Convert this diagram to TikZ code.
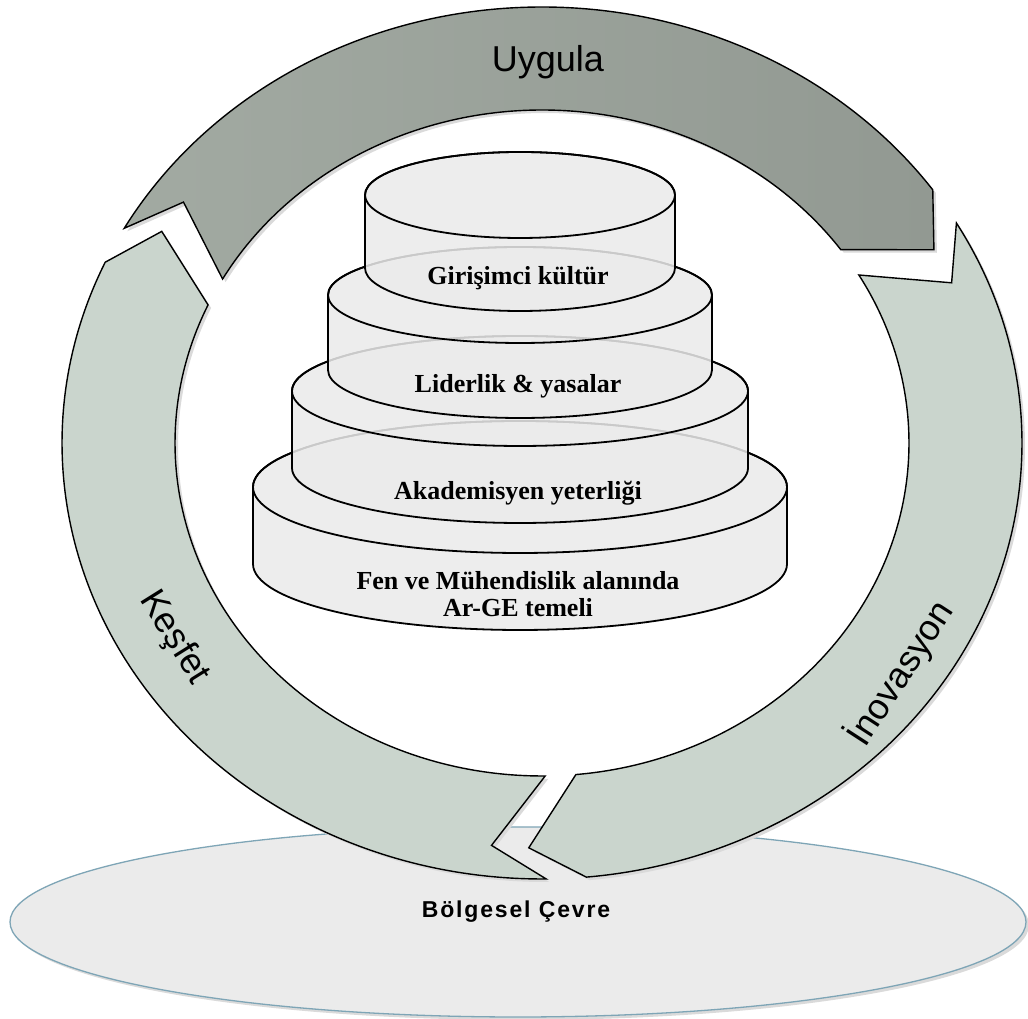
\documentclass[tikz,border=0pt]{standalone}
\usepackage{fontspec}
\setmainfont{Liberation Serif}
\newfontfamily\arialfam{Liberation Sans}
\newfontfamily\arialspaced[LetterSpace=8]{Liberation Sans}
\definecolor{ringlight}{RGB}{202,213,205}
\definecolor{ringdarkL}{RGB}{162,170,162}
\definecolor{ringdarkM}{RGB}{176,184,176}
\definecolor{ringdarkR}{RGB}{146,153,146}
\definecolor{cylfill}{RGB}{235,235,235}
\definecolor{baseedge}{RGB}{126,165,182}
\definecolor{shadowc}{RGB}{218,218,218}
% ring arrow: #1 = parametric angle of the notched tail, runs clockwise
\newcommand\ringarrowpath[1]{(#1:480pt and 436pt)
  arc[start angle=#1, end angle=#1-115, x radius=480pt, y radius=436pt]
  -- ({#1-122}:446pt and 405pt)
  -- ({#1-115}:367pt and 333pt)
  arc[start angle=#1-115, end angle=#1, x radius=367pt, y radius=333pt]
  -- ({#1-7}:446pt and 405pt) -- cycle}
\tikzset{
  arrowline/.style={draw=black, line width=1.4pt, line join=miter},
  shadowfill/.style={fill=shadowc, shift={(3,-3)}},
  cylbody/.style={fill=cylfill, fill opacity=0.86, draw=black, line width=1.8pt},
  cyltext/.style={font=\bfseries\fontsize{26}{27}\selectfont, inner sep=0pt, align=center},
  ringtext/.style={font=\arialfam\fontsize{36}{40}\selectfont, inner sep=0pt}
}
\begin{document}
\begin{tikzpicture}[x=1pt,y=1pt]
\useasboundingbox (0,0) rectangle (1028,1019);
\fill[white] (0,0) rectangle (1028,1019);

% base ellipse
\fill[shadowc] (521,94) ellipse [x radius=508pt, y radius=95pt];
\path[fill=cylfill, draw=baseedge, line width=1.3pt] (518,97) ellipse [x radius=508pt, y radius=95pt];

% ring of arrows
\begin{scope}[shift={(542,576)}]
  \fill[shadowfill] \ringarrowpath{270.5};
  \fill[shadowfill] \ringarrowpath{150.5};
  \fill[shadowfill] \ringarrowpath{30.3};
  \path[arrowline, fill=ringlight] \ringarrowpath{270.5};
  \path[arrowline, left color=ringdarkL, middle color=ringdarkM, right color=ringdarkR] \ringarrowpath{150.5};
  \path[arrowline, fill=ringlight] \ringarrowpath{30.3};
\end{scope}

% stacked cylinders (bottom to top)
\foreach \ytop/\ybot/\rx/\ry in {532/455/267/66, 628/551/228/55, 724/649/192/48, 824/751/155/43} {
  \path[cylbody] ({520-\rx},\ytop) -- ({520-\rx},\ybot)
    arc[start angle=180, end angle=360, x radius=\rx*1pt, y radius=\ry*1pt]
    -- ({520+\rx},\ytop)
    arc[start angle=0, end angle=180, x radius=\rx*1pt, y radius=\ry*1pt] -- cycle;
  \draw[black, line width=1.8pt] (520,\ytop) ellipse [x radius=\rx*1pt, y radius=\ry*1pt];
}

% texts
\node[cyltext, anchor=base] (gk) at (518,734) {Girişimci kültür};
\node[cyltext, anchor=base] (ly) at (518,626) {Liderlik \& yasalar};
\node[cyltext, anchor=base] (ay) at (518,519) {Akademisyen yeterliği};
\node[cyltext, anchor=base] (fm) at (518,429) {Fen ve Mühendislik alanında};
\node[cyltext, anchor=base] (ag) at (518,402) {Ar-GE temeli};

\node[ringtext, anchor=base] (uy) at (548,947) {Uygula};
\node[ringtext, rotate=-58] (ks) at (174,381) {Keşfet};
\node[ringtext, rotate=57] (in) at (900,346) {İnovasyon};

\node[font=\arialspaced\bfseries\fontsize{23}{25}\selectfont, inner sep=0pt, anchor=base] (bc) at (516,101) {Bölgesel Çevre};
\end{tikzpicture}
\end{document}
